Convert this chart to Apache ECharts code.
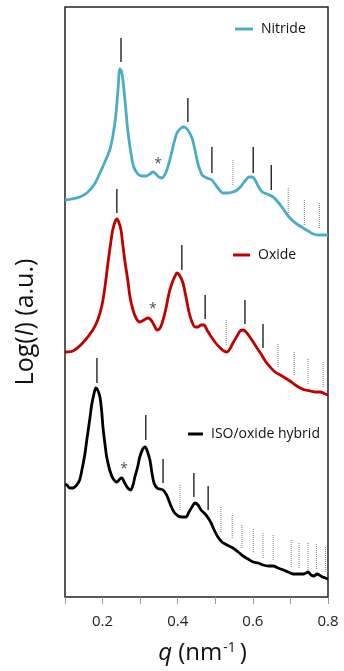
<!DOCTYPE html>
<html>
<head>
<meta charset="utf-8">
<script src="https://cdn.jsdelivr.net/npm/echarts@6/dist/echarts.min.js"></script>
<style>
  html, body { margin: 0; padding: 0; background: #fff; }
  #chart { width: 344px; height: 671px; }
</style>
</head>
<body>
<div id="chart"></div>
<script>
// q in nm^-1, intensity in arbitrary (offset, log) units
const nitrideQ = [0.100, 0.118, 0.139, 0.158, 0.177, 0.193, 0.206, 0.219, 0.227, 0.235, 0.241, 0.246, 0.251, 0.257, 0.262, 0.267, 0.275, 0.283, 0.294, 0.305, 0.315, 0.326, 0.334, 0.342, 0.350, 0.358, 0.369, 0.379, 0.390, 0.398, 0.409, 0.417, 0.427, 0.438, 0.446, 0.454, 0.465, 0.478, 0.491, 0.505, 0.521, 0.534, 0.547, 0.558, 0.569, 0.579, 0.590, 0.598, 0.606, 0.614, 0.625, 0.638, 0.654, 0.667, 0.681, 0.694, 0.707, 0.721, 0.734, 0.747, 0.761, 0.774, 0.787, 0.800];
const nitrideI = [397, 398, 400, 404, 412, 424, 435, 447, 460, 481, 507, 528, 525, 507, 487, 467, 445, 430, 423, 421, 421, 423, 425, 423, 420, 419, 425, 437, 454, 464, 469, 470, 467, 459, 447, 433, 422, 419, 417, 410, 404, 404, 405, 407, 411, 416, 420, 420, 417, 411, 405, 403, 400, 395, 388, 381, 376, 372, 369, 366, 363, 362, 362, 362];

const oxideQ = [0.100, 0.121, 0.147, 0.174, 0.187, 0.198, 0.206, 0.214, 0.222, 0.227, 0.233, 0.238, 0.243, 0.249, 0.254, 0.259, 0.267, 0.273, 0.281, 0.289, 0.299, 0.310, 0.321, 0.329, 0.337, 0.345, 0.353, 0.361, 0.369, 0.377, 0.385, 0.393, 0.398, 0.406, 0.414, 0.422, 0.430, 0.438, 0.446, 0.454, 0.462, 0.470, 0.478, 0.486, 0.499, 0.513, 0.523, 0.531, 0.539, 0.547, 0.558, 0.566, 0.574, 0.582, 0.590, 0.601, 0.611, 0.622, 0.633, 0.646, 0.659, 0.673, 0.686, 0.699, 0.713, 0.726, 0.739, 0.753, 0.766, 0.779, 0.793, 0.800];
const oxideI = [245, 246, 254, 267, 277, 291, 309, 333, 355, 367, 375, 378, 375, 367, 352, 337, 317, 300, 287, 279, 275, 277, 279, 277, 272, 267, 269, 277, 289, 304, 314, 321, 324, 321, 314, 300, 285, 275, 270, 270, 272, 272, 267, 262, 255, 249, 246, 245, 248, 254, 261, 266, 267, 265, 261, 255, 249, 243, 236, 230, 225, 222, 219, 216, 212, 209, 207, 206, 205, 205, 203, 202];

const hybridQ = [0.100, 0.105, 0.113, 0.121, 0.131, 0.139, 0.145, 0.153, 0.158, 0.166, 0.171, 0.177, 0.182, 0.187, 0.193, 0.198, 0.201, 0.206, 0.211, 0.219, 0.227, 0.238, 0.246, 0.251, 0.259, 0.267, 0.275, 0.281, 0.286, 0.294, 0.299, 0.307, 0.313, 0.318, 0.326, 0.331, 0.337, 0.345, 0.353, 0.361, 0.369, 0.374, 0.382, 0.390, 0.401, 0.411, 0.422, 0.430, 0.438, 0.446, 0.454, 0.462, 0.473, 0.481, 0.489, 0.497, 0.507, 0.518, 0.531, 0.547, 0.561, 0.574, 0.587, 0.601, 0.614, 0.627, 0.641, 0.654, 0.667, 0.681, 0.694, 0.707, 0.721, 0.734, 0.742, 0.747, 0.755, 0.763, 0.771, 0.777, 0.785, 0.793, 0.800];
const hybridI = [113, 112, 109, 109, 112, 117, 127, 143, 157, 178, 192, 203, 209, 207, 200, 184, 170, 154, 140, 127, 119, 115, 118, 119, 114, 109, 107, 112, 120, 131, 140, 148, 150, 147, 137, 125, 114, 109, 108, 107, 103, 99, 91, 85, 81, 80, 80, 85, 90, 94, 92, 87, 83, 79, 74, 67, 60, 55, 52, 49, 45, 41, 38, 35, 34, 32, 31, 31, 29, 27, 25, 23, 23, 23, 24, 25, 22, 21, 23, 22, 20, 19, 18];

// reflection ticks: [q, top, bottom]
const solidTicks = [
  [0.249, 559, 535], [0.427, 499, 475], [0.491, 450, 424], [0.601, 450, 424], [0.649, 432, 407],
  [0.238, 408, 384], [0.411, 352, 327], [0.473, 302, 278], [0.579, 297, 273], [0.627, 273, 249],
  [0.185, 239, 214], [0.315, 182, 157], [0.361, 138, 114], [0.443, 124, 100], [0.481, 111, 87]
];
const dottedTicks = [
  [0.547, 437, 412], [0.694, 409, 384], [0.737, 397, 372], [0.777, 394, 368],
  [0.529, 277, 251], [0.667, 253, 229], [0.710, 245, 221], [0.747, 238, 212], [0.787, 235, 210],
  [0.406, 112, 87], [0.515, 90, 65], [0.545, 82, 58], [0.571, 72, 48], [0.601, 68, 44], [0.627, 64, 39],
  [0.654, 62, 37], [0.702, 57, 30], [0.723, 54, 29], [0.747, 54, 27], [0.769, 53, 27], [0.793, 50, 24]
];
const stars = [[0.348, 433], [0.334, 288], [0.257, 128]];

const zip = (xs, ys) => xs.map((x, i) => [x, ys[i]]);
const FONT = '"Open Sans", sans-serif';

function tickRenderer(color, width, dash) {
  return function (params, api) {
    const p1 = api.coord([api.value(0), api.value(1)]);
    const p2 = api.coord([api.value(0), api.value(2)]);
    return {
      type: 'line',
      shape: { x1: p1[0], y1: p1[1], x2: p2[0], y2: p2[1] },
      style: { stroke: color, lineWidth: width, lineDash: dash }
    };
  };
}

function lineSeries(name, color, data) {
  return {
    name: name, type: 'line', data: data, smooth: 0.3, showSymbol: false,
    lineStyle: { color: color, width: 2.8 }, itemStyle: { color: color }, z: 3
  };
}

function legendAt(name, left, top, width) {
  return {
    data: [name], left: left, top: top, padding: 0,
    icon: 'rect', itemWidth: width, itemHeight: 3,
    textStyle: { fontFamily: FONT, fontSize: 14, color: '#111', padding: [0, 0, 0, 3] }
  };
}

const chart = echarts.init(document.getElementById('chart'));
chart.setOption({
  animation: false,
  grid: { left: 65, right: 16, top: 7, bottom: 74, show: true, borderColor: '#222', borderWidth: 1.5 },
  legend: [
    legendAt('Nitride', 235, 22, 18),
    legendAt('Oxide', 233, 248, 17),
    legendAt('ISO/oxide hybrid', 188, 427, 15)
  ],
  xAxis: {
    type: 'value', min: 0.1, max: 0.8, interval: 0.1,
    axisLine: { show: false },
    axisTick: { show: true, inside: false, length: 7, lineStyle: { color: '#999' } },
    axisLabel: {
      margin: 17, fontFamily: FONT, fontSize: 15, color: '#222',
      formatter: v => (Math.round(v * 10) % 2 === 0 && v > 0.15) ? v.toFixed(1) : ''
    },
    splitLine: { show: false },
    name: '{i|q} (nm{s|-1})',
    nameLocation: 'middle', nameGap: 44,
    nameTextStyle: {
      fontFamily: FONT, fontSize: 24, color: '#111', padding: [0, 0, 0, 12],
      rich: {
        i: { fontFamily: FONT, fontSize: 24, fontStyle: 'italic', color: '#111' },
        s: { fontFamily: FONT, fontSize: 14, verticalAlign: 'top', color: '#111', padding: [0, 4, 0, 1] }
      }
    }
  },
  yAxis: {
    type: 'value', min: 0, max: 590,
    axisLine: { show: false }, axisTick: { show: false }, axisLabel: { show: false },
    splitLine: { show: false },
    name: 'Log({i|I}) (a.u.)',
    nameLocation: 'middle', nameGap: 27,
    nameTextStyle: {
      fontFamily: FONT, fontSize: 25, color: '#111', padding: [0, 40, 0, 0],
      rich: { i: { fontFamily: FONT, fontSize: 25, fontStyle: 'italic', color: '#111' } }
    }
  },
  series: [
    lineSeries('Nitride', '#4bacc6', zip(nitrideQ, nitrideI)),
    lineSeries('Oxide', '#c00000', zip(oxideQ, oxideI)),
    lineSeries('ISO/oxide hybrid', '#000000', zip(hybridQ, hybridI)),
    {
      type: 'custom', data: solidTicks, renderItem: tickRenderer('#222', 1.4, null),
      encode: { x: 0, y: [1, 2] }, silent: true, z: 4
    },
    {
      type: 'custom', data: dottedTicks, renderItem: tickRenderer('#777', 1, [1, 1]),
      encode: { x: 0, y: [1, 2] }, silent: true, z: 4
    },
    {
      type: 'scatter', data: stars, symbolSize: 0, silent: true,
      label: { show: true, position: 'inside', formatter: '*', fontFamily: FONT, fontSize: 14, color: '#222' }
    }
  ]
});
</script>
</body>
</html>
